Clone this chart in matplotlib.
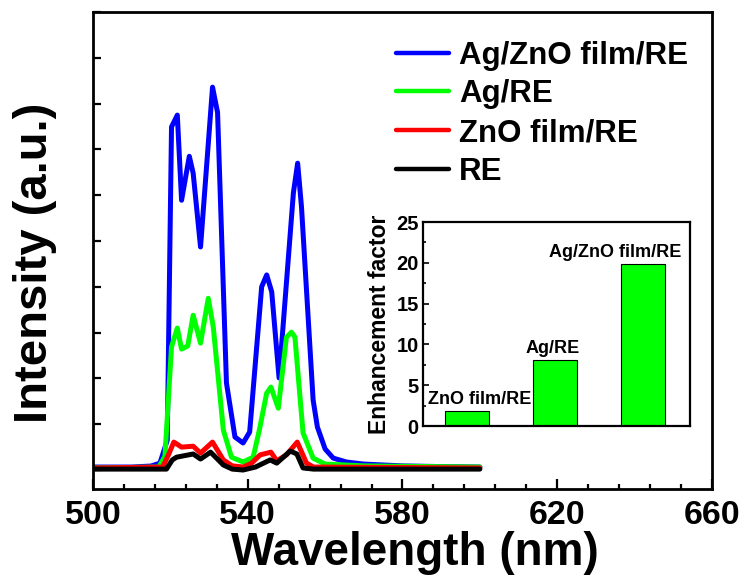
import numpy as np
import matplotlib.pyplot as plt
from matplotlib.ticker import MultipleLocator

plt.rcParams["font.family"] = ["Liberation Sans", "DejaVu Sans"]
plt.rcParams["font.weight"] = "bold"

# emission spectra (wavelength in nm, intensity in a.u.)
wl_blue = [500, 510, 515, 517.3, 519.2, 520.3, 521.8, 522.9, 524.9, 525.9, 527.8,
           530.9, 532.2, 534.5, 536.7, 538.8, 540.5, 543.6, 544.9, 546.2, 548.1,
           551.8, 552.9, 553.9, 556.9, 558, 560, 562.1, 565.5, 570, 575, 580, 590, 600]
int_blue = [65, 65, 87, 150, 650, 7490, 7750, 5890, 6850, 6480, 4870,
            8360, 7810, 1900, 720, 590, 830, 4000, 4260, 3890, 2010,
            6050, 6700, 5740, 1530, 940, 460, 260, 175, 130, 110, 90, 75, 65]

wl_green = [500, 517, 518.6, 520.3, 521.8, 522.9, 524.5, 525.9, 527.8, 529.8, 531.1,
            533.7, 535.8, 538.8, 541.4, 543, 544.9, 546, 547.9, 550, 551.3, 552.2,
            554.3, 556.9, 560, 570, 600]
int_green = [45, 65, 300, 2690, 3100, 2640, 2710, 3380, 2770, 3750, 3120,
             870, 280, 175, 280, 870, 1680, 1810, 1350, 2900, 3010, 2900,
             810, 260, 130, 90, 65]

wl_red = [500, 518, 519.5, 520.9, 522.9, 525.9, 527.8, 530.9, 533.7, 536, 538.8,
          541, 543.2, 546, 547.5, 550, 552.8, 555.2, 557, 600]
int_red = [45, 65, 330, 610, 500, 520, 370, 610, 220, 90, 65,
           150, 330, 390, 200, 330, 610, 150, 65, 45]

wl_black = [500, 519, 520.5, 521.6, 525.9, 527.8, 530.4, 533.7, 536, 538.8, 542,
            545.8, 547.5, 551, 552.7, 554.3, 557, 600]
int_black = [20, 20, 220, 280, 350, 240, 390, 110, 20, 0, 65,
             220, 150, 415, 350, 45, 20, 20]

series_labels = ["Ag/ZnO film/RE", "Ag/RE", "ZnO film/RE", "RE"]
series_colors = ["#0000ff", "#00ff00", "#ff0000", "#000000"]

# inset: enhancement factor
bar_labels = ["ZnO film/RE", "Ag/RE", "Ag/ZnO film/RE"]
bar_values = [1.8, 8.1, 19.8]

fig = plt.figure(figsize=(7.45, 5.79), dpi=100)
ax = fig.add_axes([0.1248, 0.1554, 0.8309, 0.8238])

spectra = [(wl_blue, int_blue), (wl_green, int_green),
           (wl_red, int_red), (wl_black, int_black)]
for (wl, inten), lab, col in zip(spectra, series_labels, series_colors):
    ax.plot(wl, inten, color=col, lw=3.6, label=lab,
            solid_joinstyle="round", solid_capstyle="round")

ax.set_xlim(500, 660)
ax.set_ylim(-415, 10000)
ax.xaxis.set_major_locator(MultipleLocator(40, offset=20))
ax.xaxis.set_minor_locator(MultipleLocator(8, offset=4))
ax.yaxis.set_major_locator(MultipleLocator(1000))
ax.tick_params(axis="both", which="both", direction="in", top=False, right=False)
ax.tick_params(axis="x", which="major", length=7, width=1.6, labelsize=24.5, pad=8)
ax.tick_params(axis="x", which="minor", length=3.5, width=1.6)
ax.tick_params(axis="y", which="major", length=6, width=1.6, labelleft=False)
for sp in ax.spines.values():
    sp.set_linewidth(2.0)

ax.set_xlabel("Wavelength (nm)", fontsize=33, fontweight="bold")
ax.xaxis.set_label_coords(0.52, -0.088)
ax.set_ylabel("Intensity (a.u.)", fontsize=34, fontweight="bold")
ax.yaxis.set_label_coords(-0.058, 0.474)

leg = ax.legend(loc="upper left", bbox_to_anchor=(0.49, 0.94), frameon=False,
                fontsize=22.5, handlelength=1.7, handletextpad=0.3,
                labelspacing=0.28, borderpad=0, borderaxespad=0)
for line in leg.get_lines():
    line.set_linewidth(3.2)

# inset bar chart
ins = fig.add_axes([0.5678, 0.2642, 0.3584, 0.3523])
pos = np.arange(1, len(bar_values) + 1)
ins.bar(pos, bar_values, width=0.5, color="#00ff00", edgecolor="black", linewidth=0.8)
ins.set_xlim(0.5, 3.53)
ins.set_ylim(0, 25)
ins.set_xticks([])
ins.yaxis.set_major_locator(MultipleLocator(5))
ins.yaxis.set_minor_locator(MultipleLocator(2.5))
ins.tick_params(axis="y", which="both", direction="in", labelsize=14.5)
ins.tick_params(axis="y", which="major", length=4, width=1.2, pad=3)
ins.tick_params(axis="y", which="minor", length=2, width=1.2)
for sp in ins.spines.values():
    sp.set_linewidth(1.6)
ins.set_ylabel("Enhancement factor", fontsize=16.5, fontweight="bold", labelpad=4)

label_shift = [0.14, -0.03, -0.32]
for p, v, lab, dx in zip(pos, bar_values, bar_labels, label_shift):
    ins.text(p + dx, v + 0.4, lab, ha="center", va="bottom",
             fontsize=13, fontweight="bold")

fig.savefig("out.png", dpi=100)
